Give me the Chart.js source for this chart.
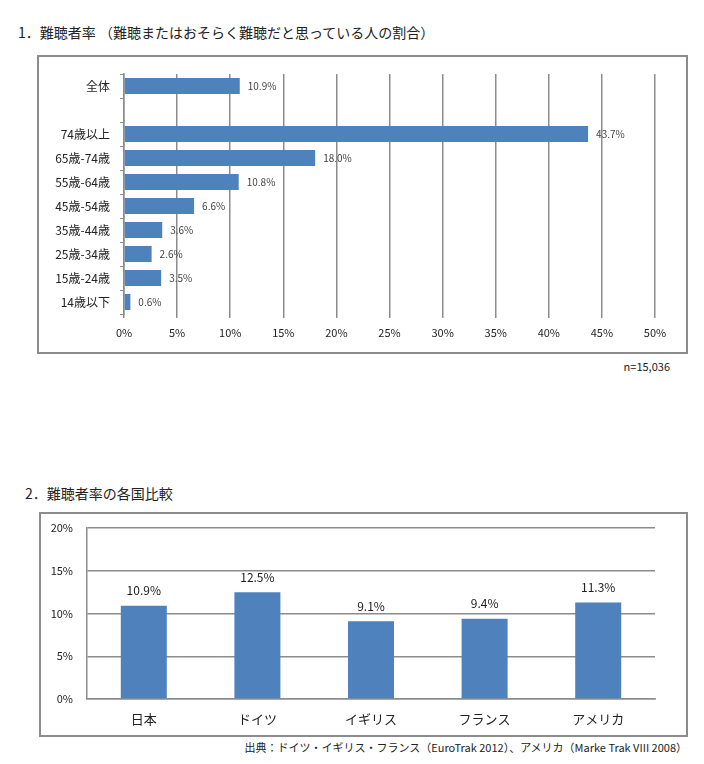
<!DOCTYPE html>
<html>
<head>
<meta charset="utf-8">
<script src="https://cdn.jsdelivr.net/npm/chart.js@4.4.1/dist/chart.umd.min.js"></script>
<style>
  body { margin: 0; background: #fff; font-family: "Noto Sans CJK JP", sans-serif; color: #222; }
  #page { position: relative; width: 704px; height: 764px; overflow: hidden; }
  .txt { position: absolute; line-height: 1; white-space: nowrap; }
  .box { position: absolute; border: 2px solid #8c8c8c; box-sizing: border-box; }
  canvas { position: absolute; }
</style>
</head>
<body>
<div id="page">
  <div class="txt" style="left:18px;top:25px;font-size:14px;">1．難聴者率 （難聴またはおそらく難聴だと思っている人の割合）</div>
  <div class="box" style="left:37px;top:55px;width:651px;height:299px;"></div>
  <canvas id="ageChart" style="left:39px;top:57px;width:646px;height:293px;"></canvas>
  <div class="txt" style="right:34px;top:361px;font-size:11px;">n=15,036</div>

  <div class="txt" style="left:25px;top:486px;font-size:14px;">2．難聴者率の各国比較</div>
  <div class="box" style="left:39px;top:512px;width:649px;height:225px;"></div>
  <canvas id="countryChart" style="left:41px;top:514px;width:645px;height:221px;"></canvas>
  <div class="txt" style="right:17px;top:742px;font-size:11px;">出典：ドイツ・イギリス・フランス（EuroTrak 2012）、アメリカ（Marke Trak VIII 2008）</div>
</div>

<script>
// データ（グラフ1：年齢別の難聴者率）
const ageLabels = ['全体', '', '74歳以上', '65歳-74歳', '55歳-64歳', '45歳-54歳', '35歳-44歳', '25歳-34歳', '15歳-24歳', '14歳以下'];
const ageValues = [10.9, null, 43.7, 18.0, 10.8, 6.6, 3.6, 2.6, 3.5, 0.6];
const ageTicks = [0, 5, 10, 15, 20, 25, 30, 35, 40, 45, 50];

// データ（グラフ2：各国比較）
const countryLabels = ['日本', 'ドイツ', 'イギリス', 'フランス', 'アメリカ'];
const countryValues = [10.9, 12.5, 9.1, 9.4, 11.3];
const countryTicks = [0, 5, 10, 15, 20];

const BLUE = '#4f81bd';
const GRID = '#8c8c8c';
const FONT = '"Noto Sans CJK JP", sans-serif';

// 棒の横に値（%）を書くプラグイン
const valueLabels = {
  id: 'valueLabels',
  afterDatasetsDraw(chart, args, opts) {
    const ctx = chart.ctx;
    const meta = chart.getDatasetMeta(0);
    const data = chart.data.datasets[0].data;
    ctx.save();
    ctx.fillStyle = opts.color || '#333';
    ctx.font = opts.size + 'px ' + FONT;
    meta.data.forEach((bar, i) => {
      if (data[i] == null) return;
      const text = data[i].toFixed(1) + '%';
      if (chart.options.indexAxis === 'y') {
        ctx.textAlign = 'left';
        ctx.textBaseline = 'middle';
        ctx.fillText(text, bar.x + opts.offset, bar.y);
      } else {
        ctx.textAlign = 'center';
        ctx.textBaseline = 'bottom';
        ctx.fillText(text, bar.x, bar.y - opts.offset);
      }
    });
    ctx.restore();
  }
};

// 縦軸の幅を固定し、上下の余白は layout.padding だけにする
const fixWidth = w => s => { s.width = w; s.paddingTop = 0; s.paddingBottom = 0; };

new Chart(document.getElementById('ageChart'), {
  type: 'bar',
  data: {
    labels: ageLabels,
    datasets: [{
      data: ageValues,
      backgroundColor: BLUE,
      categoryPercentage: 1,
      barPercentage: 0.67
    }]
  },
  plugins: [valueLabels],
  options: {
    indexAxis: 'y',
    responsive: false,
    animation: false,
    devicePixelRatio: 1,
    layout: { padding: { left: 0, right: 30, top: 17, bottom: 0 } },
    plugins: {
      legend: { display: false },
      tooltip: { enabled: false },
      valueLabels: { size: 10, offset: 8, color: '#444' }
    },
    scales: {
      x: {
        min: 0,
        max: 50,
        afterBuildTicks: s => { s.ticks = ageTicks.map(v => ({ value: v })); },
        afterFit: s => { s.height = 36; },
        ticks: {
          callback: v => v + '%',
          color: '#222',
          padding: 8,
          maxRotation: 0,
          font: { family: FONT, size: 11 }
        },
        grid: { color: GRID, lineWidth: 1.5, tickLength: 4 },
        border: { display: false }
      },
      y: {
        afterFit: fixWidth(85),
        ticks: {
          color: '#222',
          padding: 10,
          font: { family: FONT, size: 12 }
        },
        grid: { drawOnChartArea: false, color: GRID, tickLength: 4, offset: true },
        border: { color: GRID, width: 1.5 }
      }
    }
  }
});

new Chart(document.getElementById('countryChart'), {
  type: 'bar',
  data: {
    labels: countryLabels,
    datasets: [{
      data: countryValues,
      backgroundColor: BLUE,
      categoryPercentage: 1,
      barPercentage: 0.405
    }]
  },
  plugins: [valueLabels],
  options: {
    responsive: false,
    animation: false,
    devicePixelRatio: 1,
    layout: { padding: { left: 0, right: 31, top: 14, bottom: 0 } },
    plugins: {
      legend: { display: false },
      tooltip: { enabled: false },
      valueLabels: { size: 12, offset: 9, color: '#222' }
    },
    scales: {
      x: {
        afterFit: s => { s.height = 36; },
        ticks: {
          color: '#222',
          padding: 4,
          font: { family: FONT, size: 13 }
        },
        grid: { display: false },
        border: { color: GRID, width: 1.5 }
      },
      y: {
        min: 0,
        max: 20,
        afterBuildTicks: s => { s.ticks = countryTicks.map(v => ({ value: v })); },
        afterFit: fixWidth(46),
        ticks: {
          callback: v => v + '%',
          color: '#222',
          padding: 14,
          font: { family: FONT, size: 11 }
        },
        grid: { color: GRID, lineWidth: 1.5, drawTicks: false },
        border: { color: GRID, width: 1.5 }
      }
    }
  }
});
</script>
</body>
</html>
